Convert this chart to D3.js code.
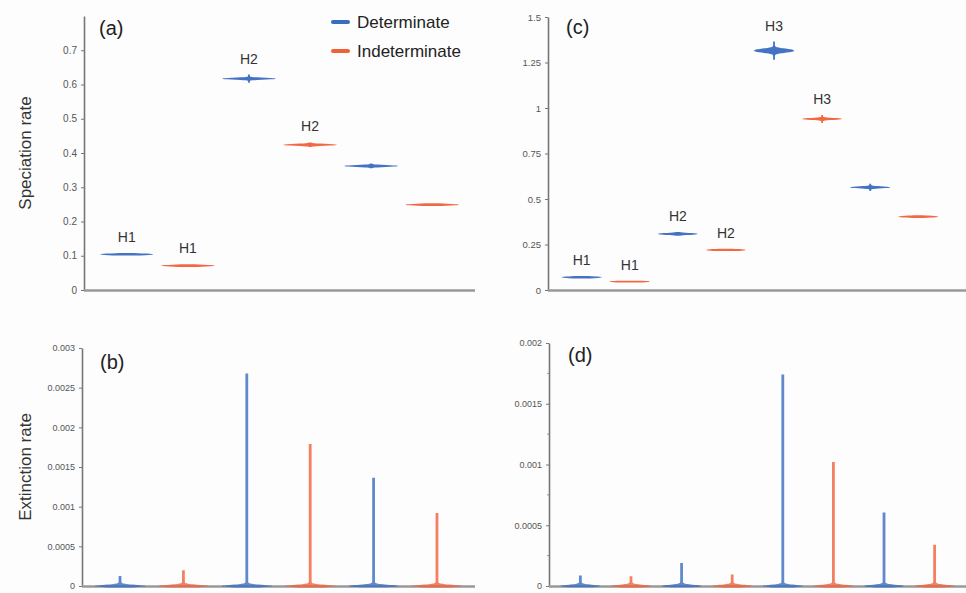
<!DOCTYPE html>
<html>
<head>
<meta charset="utf-8">
<script src="https://cdn.jsdelivr.net/npm/d3@7/dist/d3.min.js"></script>
<style>
	body { margin: 0; background: #fdfdfd; }
	svg { display: block; font-family: Arial, 'Liberation Sans', sans-serif; }
	.tick text { fill: #555; }
</style>
</head>
<body>
<div id="content"></div>
<script>
// ---- data ----
let GROUPS = ['Determinate', 'Indeterminate']

// (a) speciation, 6 violins
let specA = [0.104, 0.071, 0.617, 0.424, 0.362, 0.249]
let specA_spread = [0.004, 0.004, 0.012, 0.007, 0.007, 0.004]
let specA_hyp = ['H1', 'H1', 'H2', 'H2', '', '']
let specA_ticks = [0, 0.1, 0.2, 0.3, 0.4, 0.5, 0.6, 0.7]

// (b) extinction, 6 violins (max of the tail)
let extB = [0.000126, 0.0002, 0.00268, 0.00179, 0.001365, 0.00092]
let extB_ticks = [0, 0.0005, 0.001, 0.0015, 0.002, 0.0025, 0.003]

// (c) speciation, 8 violins
let specC = [0.07, 0.046, 0.308, 0.22, 1.315, 0.94, 0.564, 0.403]
let specC_spread = [0.007, 0.005, 0.01, 0.007, 0.05, 0.022, 0.02, 0.008]
let specC_hyp = ['H1', 'H1', 'H2', 'H2', 'H3', 'H3', '', '']
let specC_ticks = [0, 0.25, 0.5, 0.75, 1, 1.25, 1.5]

// (d) extinction, 8 violins
let extD = [0.000086, 0.00008, 0.00019, 0.000095, 0.00174, 0.00102, 0.000605, 0.00034]
let extD_ticks = [0, 0.0005, 0.001, 0.0015, 0.002]

let COLORS = { Determinate: '#3a6cc0', Indeterminate: '#f2603a' }

let W = 966, H = 593

let svg = d3.select('#content').append('svg')
	.attr('width', W)
	.attr('height', H)

svg.append('rect').attr('width', W).attr('height', H).attr('fill', '#fdfdfd')

function groupOf(i) { return GROUPS[i % 2] }

// violin outline: half width as a function of pixel distance from the mode
function violinPath(cx, yMode, yTop, yBot, halfW, lobe, tail, power) {
	let pts = []
	let step = 0.2
	for (let y = yTop; y <= yBot + 1e-6; y += step) {
		let d = Math.abs(y - yMode) / lobe
		let w = tail + (halfW - tail) * Math.exp(-Math.pow(d, power))
		pts.push([y, w])
	}
	let area = d3.area()
		.y((p) => p[0])
		.x0((p) => cx - p[1])
		.x1((p) => cx + p[1])
	return area(pts)
}

function panel(opt) {
	let g = svg.append('g')
	let y = d3.scaleLinear().domain(opt.domain).range([opt.bottom, opt.top])
	let cats = opt.values.map((v, i) => 'c' + i)
	let x = d3.scalePoint().domain(cats).range([opt.left, opt.xEnd]).padding(opt.pad)

	// y axis
	let yAxis = d3.axisLeft(y)
		.tickValues(opt.ticks)
		.tickFormat(d3.format('~g'))
		.tickSize(3)
		.tickSizeOuter(0)
	let ya = g.append('g')
		.attr('transform', `translate(${opt.left}, 0)`)
		.call(yAxis)
	ya.select('.domain').attr('stroke', '#777').attr('stroke-width', 1.6)
	ya.selectAll('.tick line').attr('stroke', '#777')
	ya.selectAll('.tick text')
		.attr('font-size', opt.tickFont)
		.attr('fill', opt.tickColor)
		.attr('dx', '-1')

	if (opt.minor) {
		g.selectAll('line.minor')
			.data(opt.minor)
			.enter().append('line')
			.attr('class', 'minor')
			.attr('x1', opt.left - 2).attr('x2', opt.left)
			.attr('y1', (d) => y(d)).attr('y2', (d) => y(d))
			.attr('stroke', '#999')
	}

	// x axis line
	g.append('line')
		.attr('x1', opt.left).attr('x2', opt.axisEnd)
		.attr('y1', opt.bottom + 0.5).attr('y2', opt.bottom + 0.5)
		.attr('stroke', '#999')
		.attr('stroke-width', 2.6)

	let halfW = x.step() * opt.widthRatio / 2

	g.selectAll('path.violin')
		.data(opt.values)
		.enter().append('path')
		.attr('class', 'violin')
		.attr('fill', (d, i) => COLORS[groupOf(i)])
		.attr('fill-opacity', opt.kind === 'ext' ? 0.8 : 0.95)
		.attr('d', (d, i) => {
			let cx = x(cats[i])
			if (opt.kind === 'spec') {
				let sp = opt.spread[i]
				let ym = y(d)
				let yt = y(d + sp), yb = y(d - sp)
				let lobe = Math.max(1.2, 0.28 * (yb - ym))
				return violinPath(cx, ym, yt, yb, halfW, lobe, 0.9, 2.6)
			} else {
				let ym = y(0)
				return violinPath(cx, ym, y(d), ym + 1.5, halfW, 1.6, 1.4, 2)
			}
		})

	if (opt.hyp) {
		g.selectAll('text.hyp')
			.data(opt.values)
			.enter().append('text')
			.attr('class', 'hyp')
			.attr('x', (d, i) => x(cats[i]))
			.attr('y', (d, i) => y(d + opt.spread[i]) - 11)
			.attr('text-anchor', 'middle')
			.attr('font-size', 14)
			.attr('fill', '#333')
			.text((d, i) => opt.hyp[i])
	}

	g.append('text')
		.attr('x', opt.left + opt.tagDx)
		.attr('y', opt.tagY)
		.attr('font-size', 20)
		.attr('fill', '#222')
		.text(opt.tag)

	if (opt.yLabel) {
		g.append('text')
			.attr('transform', `translate(31, ${(opt.top + opt.bottom) / 2}) rotate(-90)`)
			.attr('text-anchor', 'middle')
			.attr('font-size', 17)
			.attr('fill', '#333')
			.text(opt.yLabel)
	}
}

panel({
	kind: 'spec', values: specA, spread: specA_spread, hyp: specA_hyp,
	domain: [0, 0.8], ticks: specA_ticks,
	left: 84, xEnd: 475, axisEnd: 475, pad: 0.7, top: 16, bottom: 290,
	widthRatio: 0.87, tickFont: 10, tickColor: '#555',
	tag: '(a)', tagDx: 15, tagY: 35, yLabel: 'Speciation rate',
})

panel({
	kind: 'ext', values: extB,
	domain: [0, 0.003], ticks: extB_ticks,
	left: 82, xEnd: 475, axisEnd: 475, pad: 0.6, top: 348, bottom: 586,
	widthRatio: 0.8, tickFont: 9, tickColor: '#777',
	tag: '(b)', tagDx: 18, tagY: 369, yLabel: 'Extinction rate',
})

panel({
	kind: 'spec', values: specC, spread: specC_spread, hyp: specC_hyp,
	domain: [0, 1.5], ticks: specC_ticks,
	left: 548, xEnd: 952, axisEnd: 966, pad: 0.7, top: 17, bottom: 290,
	widthRatio: 0.83, tickFont: 9.5, tickColor: '#555',
	tag: '(c)', tagDx: 18, tagY: 34,
})

panel({
	kind: 'ext', values: extD,
	domain: [0, 0.002], ticks: extD_ticks,
	minor: [0.00025, 0.00075, 0.00125, 0.00175],
	left: 549, xEnd: 966, axisEnd: 966, pad: 0.62, top: 343, bottom: 586,
	widthRatio: 0.8, tickFont: 9, tickColor: '#777',
	tag: '(d)', tagDx: 19, tagY: 362,
})

// legend
let legend = svg.append('g').attr('transform', 'translate(333, 22)')
GROUPS.forEach((name, i) => {
	legend.append('line')
		.attr('x1', 0).attr('x2', 15)
		.attr('y1', i * 29).attr('y2', i * 29)
		.attr('stroke', COLORS[name])
		.attr('stroke-width', 4)
		.attr('stroke-linecap', 'round')
	legend.append('text')
		.attr('x', 24).attr('y', i * 29 + 6)
		.attr('font-size', 17)
		.attr('fill', '#222')
		.text(name)
})
</script>
</body>
</html>
